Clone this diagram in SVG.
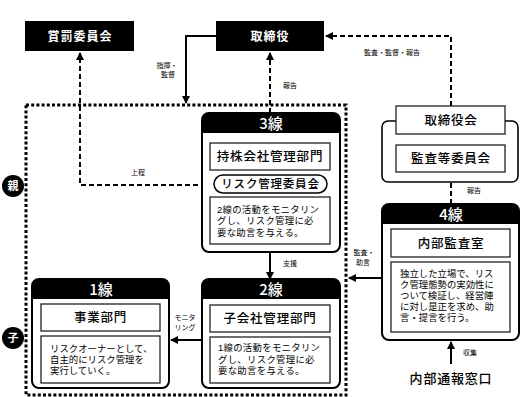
<svg xmlns="http://www.w3.org/2000/svg" width="520" height="397" viewBox="0 0 520 397">
<style>
text{font-family:"Noto Sans CJK JP","Noto Sans",sans-serif;fill:#000}
.wt{fill:#fff;font-weight:bold;text-anchor:middle}
.top{font-size:12px;letter-spacing:1px}
.hd{font-size:15px;font-weight:500}
.ttl{font-size:12.5px;text-anchor:middle;font-weight:500;letter-spacing:0.8px}
.desc{font-family:"Liberation Sans","Noto Sans CJK JP",sans-serif;font-size:9.4px;letter-spacing:0.3px}
.lbl{font-family:"Liberation Sans","Noto Sans CJK JP",sans-serif;font-size:7px;text-anchor:middle}
.card{fill:#fff;stroke:#000;stroke-width:2}
.inner{fill:#fff;stroke:#222;stroke-width:1.3}
.blk{fill:#000}
.solid{fill:none;stroke:#000;stroke-width:2}
.dash{fill:none;stroke:#000;stroke-width:2;stroke-dasharray:5 3}
.dot{fill:none;stroke:#000;stroke-width:3;stroke-dasharray:3 2.2}
</style>
<defs>
<marker id="ah" viewBox="0 0 8 8" refX="7" refY="4" markerWidth="8" markerHeight="8" markerUnits="userSpaceOnUse" orient="auto">
<path d="M0,0 L8,4 L0,8 z" fill="#000"/>
</marker>
</defs>
<rect width="520" height="397" fill="#fff"/>

<g id="parent-boundary">
<rect class="dot" x="26" y="105" width="320" height="290"/>
</g>

<g id="connectors">
<path class="solid" d="M216,36 H186 V103" marker-end="url(#ah)"/>
<path class="dash" d="M270,113 V53" marker-end="url(#ah)"/>
<path class="dash" d="M451,106 V36 H326" marker-end="url(#ah)"/>
<path class="dash" d="M451,204 V174" marker-end="url(#ah)"/>
<path class="dash" d="M214,185 H80 V53" marker-end="url(#ah)"/>
<path class="solid" d="M270,252 V279" marker-end="url(#ah)"/>
<path class="solid" d="M202,340 H171" marker-end="url(#ah)"/>
<path class="solid" d="M382,278 H349" marker-end="url(#ah)"/>
<path class="solid" d="M451,364 V342" marker-end="url(#ah)"/>
<text class="lbl" x="167" y="68">指揮・<tspan x="168" dy="9">監督</tspan></text>
<text class="lbl" x="290" y="88">報告</text>
<text class="lbl" x="392" y="55">監査・監督・報告</text>
<text class="lbl" x="474" y="193">報告</text>
<text class="lbl" x="138" y="175">上程</text>
<text class="lbl" x="290" y="266">支援</text>
<text class="lbl" x="364" y="255">監査・<tspan x="363" dy="10">助言</tspan></text>
<text class="lbl" x="185" y="320">モニタ<tspan x="185" dy="10">リング</tspan></text>
<text class="lbl" x="470" y="355">収集</text>
</g>

<g id="shobatsu">
<rect class="blk" x="25" y="21" width="109" height="30"/>
<text class="wt top" x="80" y="40.5">賞罰委員会</text>
</g>

<g id="torishimariyaku">
<rect class="blk" x="216" y="21" width="108" height="30"/>
<text class="wt top" x="270" y="40.5">取締役</text>
</g>

<g id="board-group">
<rect x="382" y="121" width="136" height="61" rx="6" fill="#fff" stroke="#000" stroke-width="1.6"/>
<rect class="inner" x="396" y="106" width="109" height="28" stroke="#000"/>
<text class="ttl" x="451" y="124.5">取締役会</text>
<rect class="inner" x="396" y="145" width="109" height="27" stroke="#000"/>
<text class="ttl" x="451" y="163">監査等委員会</text>
</g>

<g id="line3">
<rect class="card" x="202" y="113" width="138" height="139" rx="7"/>
<path class="blk" d="M202,133 V120 Q202,113 209,113 H333 Q340,113 340,120 V133 Z"/>
<text class="wt hd" x="271" y="129">3線</text>
<rect class="inner" x="210" y="143" width="120" height="27"/>
<text class="ttl" x="270" y="161">持株会社管理部門</text>
<rect x="214" y="175" width="113" height="18" rx="9" fill="#fff" stroke="#000" stroke-width="1.5"/>
<text class="ttl" x="270.5" y="188" style="font-size:11.5px">リスク管理委員会</text>
<rect class="inner" x="210" y="197" width="120" height="47"/>
<text class="desc" x="217" y="212.5">2線の活動をモニタリン<tspan x="217" dy="11.8">グし、リスク管理に必</tspan><tspan x="217" dy="11.5">要な助言を与える。</tspan></text>
</g>

<g id="line2">
<rect class="card" x="202" y="279" width="138" height="109" rx="7"/>
<path class="blk" d="M202,299 V286 Q202,279 209,279 H333 Q340,279 340,286 V299 Z"/>
<text class="wt hd" x="271" y="295">2線</text>
<rect class="inner" x="210" y="305" width="120" height="27"/>
<text class="ttl" x="270" y="323">子会社管理部門</text>
<rect class="inner" x="210" y="337" width="120" height="46"/>
<text class="desc" x="218" y="350.5">1線の活動をモニタリン<tspan x="218" dy="12">グし、リスク管理に必</tspan><tspan x="218" dy="11.5">要な助言を与える。</tspan></text>
</g>

<g id="line1">
<rect class="card" x="32" y="279" width="137" height="109" rx="7"/>
<path class="blk" d="M32,299 V286 Q32,279 39,279 H162 Q169,279 169,286 V299 Z"/>
<text class="wt hd" x="101" y="295">1線</text>
<rect class="inner" x="41" y="304" width="119" height="27"/>
<text class="ttl" x="100.5" y="322">事業部門</text>
<rect class="inner" x="41" y="336" width="119" height="47"/>
<text class="desc" x="50" y="352" style="letter-spacing:0">リスクオーナーとして、<tspan x="50" dy="11">自主的にリスク管理を</tspan><tspan x="50" dy="11">実行していく。</tspan></text>
</g>

<g id="line4">
<rect class="card" x="382" y="204" width="137" height="136" rx="7"/>
<path class="blk" d="M382,224 V211 Q382,204 389,204 H512 Q519,204 519,211 V224 Z"/>
<text class="wt hd" x="451" y="220">4線</text>
<rect class="inner" x="391" y="229" width="119" height="28"/>
<text class="ttl" x="451" y="247.5">内部監査室</text>
<rect class="inner" x="391" y="262" width="119" height="70"/>
<text class="desc" x="400" y="276.5" style="letter-spacing:0">独立した立場で、リス<tspan x="400" dy="11">ク管理態勢の実効性に</tspan><tspan x="400" dy="11">ついて検証し、経営陣</tspan><tspan x="400" dy="11">に対し是正を求め、助</tspan><tspan x="400" dy="11">言・提言を行う。</tspan></text>
</g>

<g id="hotline">
<text x="451" y="383" style="font-size:13px;text-anchor:middle;font-weight:500;letter-spacing:0.8px">内部通報窓口</text>
</g>

<g id="oya">
<circle cx="13" cy="186" r="11" fill="#000"/>
<text class="wt" x="13" y="190" style="font-size:11px">親</text>
</g>

<g id="ko">
<circle cx="13" cy="338" r="11" fill="#000"/>
<text class="wt" x="13" y="342" style="font-size:11px">子</text>
</g>
</svg>
